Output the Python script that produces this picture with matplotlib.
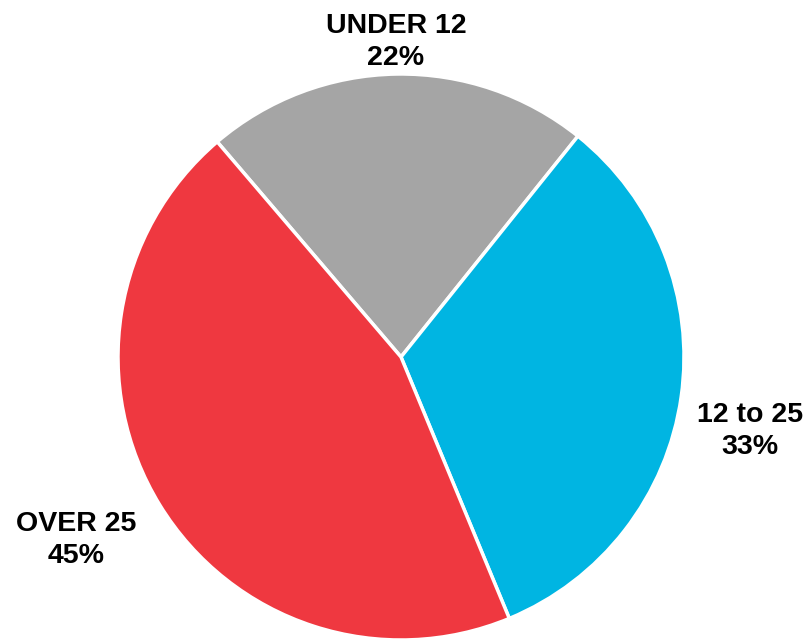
import matplotlib
matplotlib.use("Agg")
import matplotlib.pyplot as plt

categories = ["UNDER 12", "12 to 25", "OVER 25"]
shares = [22, 33, 45]
colors = ["#A5A5A5", "#00B5E2", "#EF3840"]

W, H = 806, 639
fig = plt.figure(figsize=(W / 100, H / 100), dpi=100)

cx, cy, r = 401, 357, 283
ax = fig.add_axes([(cx - r) / W, (H - cy - r) / H, 2 * r / W, 2 * r / H])
ax.pie(
    shares,
    colors=colors,
    startangle=130.5,
    counterclock=False,
    radius=1,
    wedgeprops=dict(edgecolor="white", linewidth=2.5),
)
ax.set_xlim(-1, 1)
ax.set_ylim(-1, 1)
ax.set_aspect("equal")
ax.axis("off")

label_pos = [(396, 42), (750, 431), (76, 540)]
for name, val, (x, y) in zip(categories, shares, label_pos):
    fig.text(
        x / W, 1 - y / H, f"{name}\n{val}%",
        ha="center", va="center", fontsize=20.5, fontweight="bold",
        family="Liberation Sans", linespacing=1.3,
    )

fig.savefig("out.png", dpi=100)
